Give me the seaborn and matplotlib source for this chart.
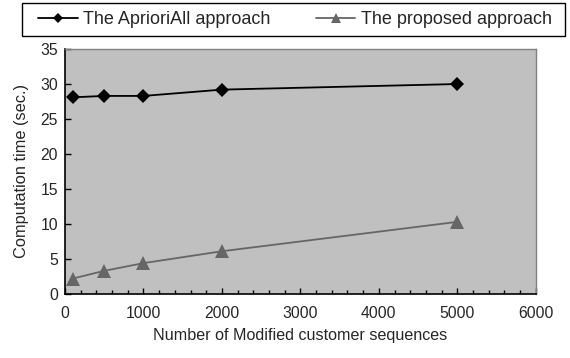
import pandas as pd
import numpy as np
import matplotlib.pyplot as plt
import seaborn as sns
from matplotlib.lines import Line2D
from matplotlib.patches import Rectangle

# data
seq_counts = [100, 500, 1000, 2000, 5000]
apriori_all = [28.1, 28.3, 28.3, 29.2, 30.0]
proposed = [2.2, 3.3, 4.4, 6.1, 10.3]

df = pd.DataFrame({
    'seqs': seq_counts * 2,
    'time': apriori_all + proposed,
    'method': ['The AprioriAll approach'] * 5 + ['The proposed approach'] * 5,
})

sns.set_theme(style='white')
plt.rcParams['font.family'] = ['Liberation Sans', 'DejaVu Sans']

fig = plt.figure(figsize=(5.7, 3.58), dpi=100)
ax = fig.add_axes([0.114, 0.179, 0.826, 0.684])
ax.set_facecolor('#C0C0C0')

sns.lineplot(data=df, x='seqs', y='time', hue='method', style='method',
             palette=['black', '#666666'], markers={'The AprioriAll approach': 'D',
                                                    'The proposed approach': '^'},
             dashes=False, markeredgewidth=0, linewidth=1.3, ax=ax, legend=False)
# marker sizes per series
for line, ms in zip(ax.lines, [7.5, 10]):
    line.set_markersize(ms)

ax.set_xlim(0, 6000)
ax.set_ylim(0, 35)
ax.set_xticks(np.arange(0, 6001, 1000))
ax.set_xticks(np.arange(0, 6001, 200), minor=True)
ax.set_yticks(np.arange(0, 36, 5))
ax.tick_params(axis='both', which='both', direction='in', labelsize=11.3,
               color='black', width=1, left=True, bottom=True)
ax.tick_params(axis='both', which='major', length=4, pad=5)
ax.tick_params(axis='x', which='minor', length=3)
ax.tick_params(axis='x', which='major', pad=9)

for s in ['left', 'bottom']:
    ax.spines[s].set_color('black')
    ax.spines[s].set_linewidth(1.2)
for s in ['top', 'right']:
    ax.spines[s].set_color('#808080')
    ax.spines[s].set_linewidth(1.0)

ax.set_xlabel('Number of Modified customer sequences', fontsize=11.6, labelpad=5)
ax.set_ylabel('Computation time (sec.)', fontsize=11.8, labelpad=8)

# legend box across the top
fig.patches.append(Rectangle((22 / 570, 1 - 36 / 358), 543 / 570, 33 / 358,
                             transform=fig.transFigure, fill=False,
                             edgecolor='black', linewidth=1.0))
handles = [
    Line2D([], [], color='black', marker='D', markersize=5.5, markeredgewidth=0, linewidth=1.3),
    Line2D([], [], color='#666666', marker='^', markersize=7.5, markeredgewidth=0, linewidth=1.3),
]
leg = fig.legend(handles, ['The AprioriAll approach', 'The proposed approach'],
                 loc='center left', bbox_to_anchor=(38 / 570, 1 - 20 / 358),
                 ncol=2, fontsize=13, frameon=False,
                 handlelength=2.2, handletextpad=0.3,
                 borderpad=0, columnspacing=2.5, borderaxespad=0)

fig.savefig('out.png', dpi=100)
